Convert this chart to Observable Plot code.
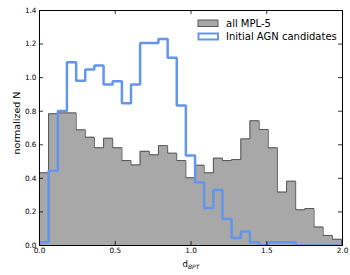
<!DOCTYPE html>
<html><head><meta charset="utf-8">
<script src="https://cdn.jsdelivr.net/npm/d3@7"></script>
<script src="https://cdn.jsdelivr.net/npm/@observablehq/plot@0.6"></script>
<style>body{margin:0;background:#fff}</style>
</head><body><div id="chart"></div>
<script>
// histogram bin edges (33 bins)
const binEdges = [0, 0.060, 0.121, 0.181, 0.242, 0.302, 0.362, 0.423, 0.483, 0.544, 0.604, 0.664, 0.725, 0.785, 0.846, 0.906, 0.966, 1.027, 1.087, 1.148, 1.208, 1.268, 1.329, 1.389, 1.450, 1.510, 1.570, 1.631, 1.691, 1.752, 1.812, 1.872, 1.933, 1.993];
// "all MPL-5" normalized counts
const allMPL5 = [0.433, 0.785, 0.79, 0.79, 0.689, 0.645, 0.582, 0.639, 0.582, 0.506, 0.48, 0.561, 0.54, 0.595, 0.55, 0.506, 0.403, 0.478, 0.433, 0.52, 0.506, 0.512, 0.635, 0.743, 0.691, 0.582, 0.318, 0.383, 0.213, 0.22, 0.11, 0.06, 0.037];
// "Initial AGN candidates" normalized counts
const agnCandidates = [0.02, 0.446, 0.802, 1.092, 0.981, 1.049, 1.073, 0.959, 0.979, 0.848, 0.959, 1.206, 1.206, 1.23, 1.119, 0.834, 0.536, 0.376, 0.224, 0.331, 0.158, 0.045, 0.084, 0.02, 0, 0.02, 0.02, 0.02, 0, 0, 0, 0, 0];
const seriesNames = ["all MPL-5", "Initial AGN candidates"];
const xTicks = [0, 0.5, 1.0, 1.5, 2.0];
const yTicks = [0, 0.2, 0.4, 0.6, 0.8, 1.0, 1.2, 1.4];

function stepPoints(vals) {
  const pts = [{x: binEdges[0], y: 0}];
  vals.forEach((v, i) => {
    pts.push({x: binEdges[i], y: v});
    pts.push({x: binEdges[i + 1], y: v});
  });
  pts.push({x: binEdges[binEdges.length - 1], y: 0});
  return pts;
}
const grayPts = stepPoints(allMPL5);
const bluePts = stepPoints(agnCandidates);

const W = 350, H = 275, mL = 39, mR = 8, mT = 10, mB = 30;
const innerW = W - mL - mR, innerH = H - mT - mB, tl = 4;
const fmt = d3.format(".1f");

const chart = Plot.plot({
  width: W, height: H,
  marginLeft: mL, marginRight: mR, marginTop: mT, marginBottom: mB,
  style: {fontFamily: "DejaVu Sans", fontSize: "7.3px", background: "white", color: "black"},
  x: {domain: [0, 2], label: null},
  y: {domain: [0, 1.4], label: null},
  marks: [
    Plot.area(grayPts, {x1: "x", y1: 0, y2: "y", fill: "#a8a8a8"}),
    Plot.line(grayPts, {x: "x", y: "y", stroke: "#555", strokeWidth: 1}),
    Plot.line(bluePts, {x: "x", y: "y", stroke: "#6495ed", strokeWidth: 2.5, strokeLinejoin: "miter", clip: true}),
    Plot.frame({stroke: "black", strokeWidth: 1}),
    Plot.tickX(xTicks, {x: d => d, insetTop: innerH - tl, stroke: "black", strokeWidth: 0.8}),
    Plot.tickX(xTicks, {x: d => d, insetBottom: innerH - tl, stroke: "black", strokeWidth: 0.8}),
    Plot.tickY(yTicks, {y: d => d, insetRight: innerW - tl, stroke: "black", strokeWidth: 0.8}),
    Plot.tickY(yTicks, {y: d => d, insetLeft: innerW - tl, stroke: "black", strokeWidth: 0.8}),
    Plot.axisX({ticks: xTicks, tickSize: 0, tickPadding: 2, tickFormat: fmt, label: null}),
    Plot.axisY({ticks: yTicks, tickSize: 0, tickPadding: 3, tickFormat: fmt, label: null})
  ]
});
document.getElementById("chart").appendChild(chart);

const svg = d3.select(chart);
// legend
const leg = svg.append("g").attr("font-family", "DejaVu Sans").attr("font-size", 10)
  .attr("fill", "black").attr("text-anchor", "start");
leg.append("rect").attr("x", 198).attr("y", 20).attr("width", 20).attr("height", 6.5)
  .attr("fill", "#a8a8a8").attr("stroke", "#555").attr("stroke-width", 1);
leg.append("text").attr("x", 226).attr("y", 27).attr("text-anchor", "start").text(seriesNames[0]);
leg.append("rect").attr("x", 198.5).attr("y", 33.5).attr("width", 19.5).attr("height", 6)
  .attr("fill", "white").attr("stroke", "#6495ed").attr("stroke-width", 2);
leg.append("text").attr("x", 226).attr("y", 40).attr("text-anchor", "start").text(seriesNames[1]);

// x label with subscript
const xl = svg.append("text").attr("x", 191).attr("y", 267).attr("text-anchor", "middle")
  .attr("font-family", "DejaVu Sans").attr("font-size", 8.5).attr("fill", "black");
xl.append("tspan").text("d");
xl.append("tspan").attr("font-size", 6).attr("font-style", "italic").attr("dy", 2).text("BPT");

// y label
svg.append("text").attr("transform", "translate(19.5,123) rotate(-90)").attr("text-anchor", "middle")
  .attr("font-family", "DejaVu Sans").attr("font-size", 9.5).attr("fill", "black").text("normalized N");
</script>
</body></html>
